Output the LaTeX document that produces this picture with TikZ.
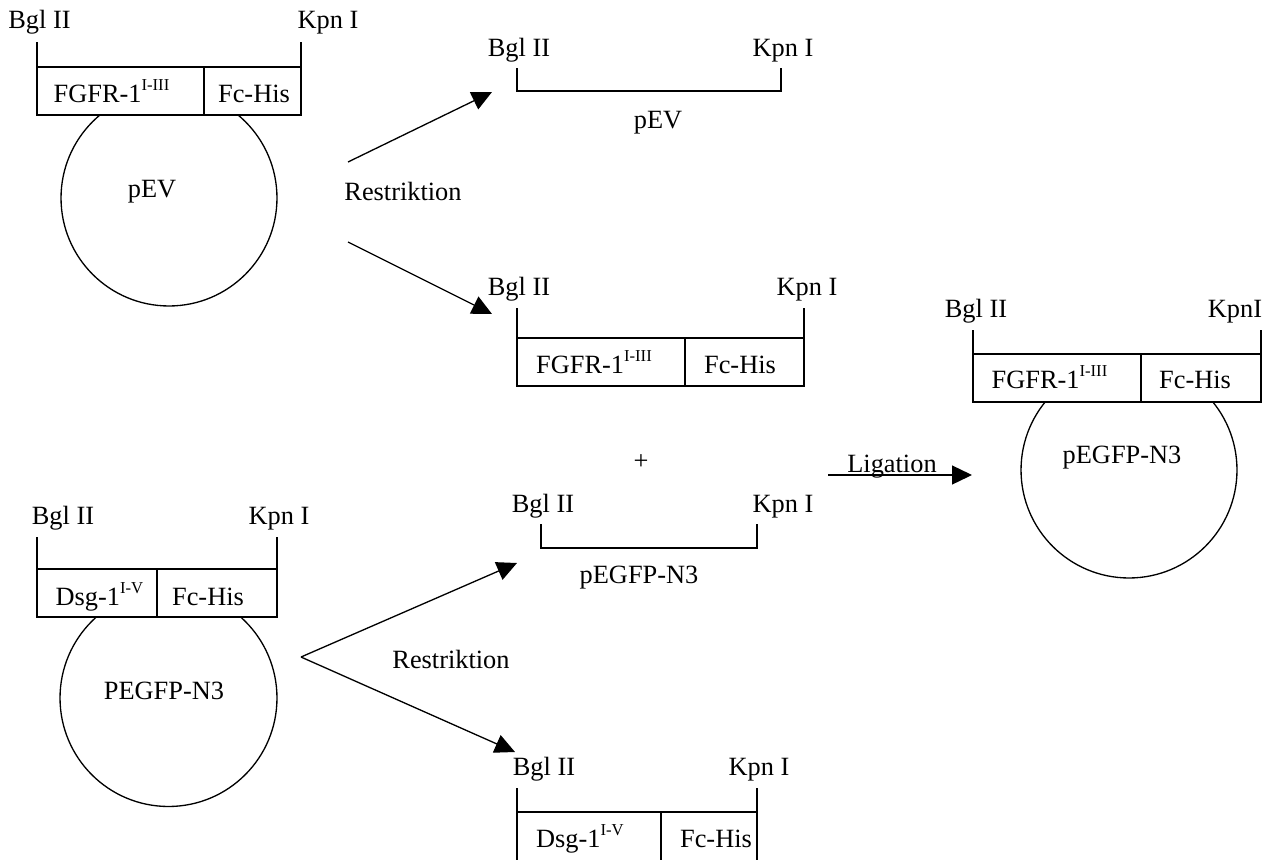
\documentclass[tikz,border=0pt]{standalone}
\usepackage{fontspec}
\setmainfont{Liberation Serif}
\usetikzlibrary{arrows.meta}
\newcommand{\upidx}[1]{\raisebox{6.8pt}{\fontsize{9.5}{11}\selectfont #1}}

\begin{document}
\begin{tikzpicture}[x=0.02cm,y=-0.02cm,line width=0.75pt,
    txt/.style={anchor=base,inner sep=0pt,font=\fontsize{15}{18}\selectfont},
    arr/.style={-{Triangle[length=0.4cm,width=0.38cm]}}]
  \path[use as bounding box,clip] (0,0) rectangle (1274,859);

  % pEV mit FGFR-1
  \draw (169,198) circle[radius=2.16cm];
  \draw[fill=white] (37,67) rectangle (301,115);
  \draw (204,67) -- (204,115);
  \draw (37,42) -- (37,67) (301,42) -- (301,67);
  \node[txt] (bglA) at (39.5,28) {Bgl II};
  \node[txt] (kpnA) at (328,28) {Kpn I};
  \node[txt] (fgfrA) at (111.5,102) {FGFR-1\upidx{I-III}};
  \node[txt] (fcA) at (254,102) {Fc-His};
  \node[txt] (pevA) at (152,197) {pEV};

  \coordinate (resA1) at (348,162);
  \coordinate (resA2) at (348,242);
  \coordinate (tipB) at (492,92);
  \coordinate (tipC) at (492,314);
  \draw[arr] (resA1) -- (tipB);
  \draw[arr] (resA2) -- (tipC);
  \node[txt] (restA) at (403,200) {Restriktion};

  % Fragment pEV
  \draw (517,68) -- (517,91) -- (781,91) -- (781,68);
  \node[txt] (bglB) at (519,56) {Bgl II};
  \node[txt] (kpnB) at (783,56) {Kpn I};
  \node[txt] (pevB) at (658,128) {pEV};

  % Fragment FGFR-1
  \draw (517,308) -- (517,338) (804,308) -- (804,338);
  \draw (517,338) rectangle (804,386);
  \draw (685,338) -- (685,386);
  \node[txt] (bglC) at (519,295) {Bgl II};
  \node[txt] (kpnC) at (807,295) {Kpn I};
  \node[txt] (fgfrC) at (594,373) {FGFR-1\upidx{I-III}};
  \node[txt] (fcC) at (740,373) {Fc-His};

  \node[txt] (plus) at (641,469) {+};

  % Fragment pEGFP-N3
  \draw (541,524) -- (541,548) -- (757,548) -- (757,524);
  \node[txt] (bglD) at (543,512) {Bgl II};
  \node[txt] (kpnD) at (783,512) {Kpn I};
  \node[txt] (pegD) at (639,583) {pEGFP-N3};

  % Ligation
  \coordinate (ligS) at (828,475);
  \coordinate (ligE) at (972,475);
  \draw[arr] (ligS) -- (ligE);
  \node[txt] (lig) at (892,472) {Ligation};

  % pEGFP-N3 mit FGFR-1
  \draw (1129,470) circle[radius=2.16cm];
  \draw[fill=white] (973,354) rectangle (1261,402);
  \draw (1141,354) -- (1141,402);
  \draw (973,330) -- (973,354) (1261,330) -- (1261,354);
  \node[txt] (bglE) at (976,317) {Bgl II};
  \node[txt] (kpnE) at (1235,317) {KpnI};
  \node[txt] (fgfrE) at (1049.5,388) {FGFR-1\upidx{I-III}};
  \node[txt] (fcE) at (1195,388) {Fc-His};
  \node[txt] (pegE) at (1122,463) {pEGFP-N3};

  % PEGFP-N3 mit Dsg-1
  \draw (168.5,698) circle[radius=2.17cm];
  \draw[fill=white] (37,569) rectangle (277,617);
  \draw (157,569) -- (157,617);
  \draw (37,537) -- (37,569) (277,537) -- (277,569);
  \node[txt] (bglF) at (63,524) {Bgl II};
  \node[txt] (kpnF) at (279,524) {Kpn I};
  \node[txt] (dsgF) at (99.5,605) {Dsg-1\upidx{I-V}};
  \node[txt] (fcF) at (208,605) {Fc-His};
  \node[txt] (pegF) at (164,699) {PEGFP-N3};

  \coordinate (resF) at (301,657);
  \coordinate (tipD) at (517,563);
  \coordinate (tipG) at (515,752);
  \draw[arr] (resF) -- (tipD);
  \draw[arr] (resF) -- (tipG);
  \node[txt] (restF) at (451,668) {Restriktion};

  % Fragment Dsg-1
  \draw (517,788) -- (517,812) (757,788) -- (757,812);
  \draw (517,812) rectangle (757,862);
  \draw (661,812) -- (661,862);
  \node[txt] (bglG) at (544,775) {Bgl II};
  \node[txt] (kpnG) at (759,775) {Kpn I};
  \node[txt] (dsgG) at (580,847) {Dsg-1\upidx{I-V}};
  \node[txt] (fcG) at (716,847) {Fc-His};
\end{tikzpicture}
\end{document}
